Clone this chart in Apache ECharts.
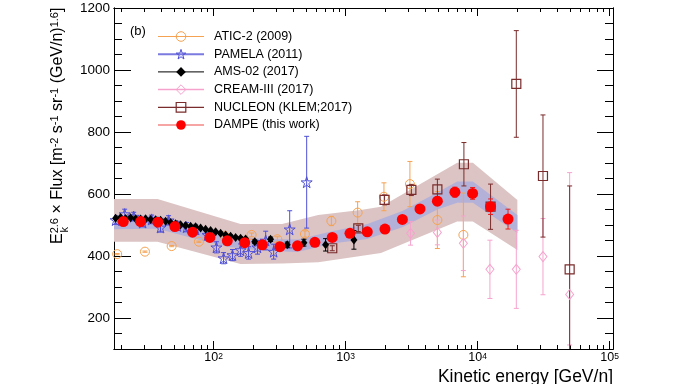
<!DOCTYPE html>
<html><head><meta charset="utf-8">
<script src="https://cdn.jsdelivr.net/npm/echarts@6/dist/echarts.min.js"></script>
<style>html,body{margin:0;padding:0;background:#fff}#c{width:682px;height:384px}</style>
</head><body><div id="c"></div>
<script>
const FONT = '"Liberation Sans", Arial, Helvetica, sans-serif';

// ---- axis ticks ----
const xMajorTicks = [100, 1000, 10000, 100000];
const xMinorTicks = [20,30,40,50,60,70,80,90,200,300,400,500,600,700,800,900,2000,3000,4000,5000,6000,7000,8000,9000,20000,30000,40000,50000,60000,70000,80000,90000];
const yMajorTicks = [200, 400, 600, 800, 1000, 1200];
const yMinorTicks = [150,250,300,350,450,500,550,650,700,750,850,900,950,1050,1100,1150];

const seriesNames = ['ATIC-2 (2009)', 'PAMELA (2011)', 'AMS-02 (2017)', 'CREAM-III (2017)', 'NUCLEON (KLEM;2017)', 'DAMPE (this work)'];

// ---- data ----
const aticE = [18.6, 30.2, 48.1, 77.4, 121, 194, 304, 492, 780, 1233, 1951, 3069, 4955, 7798];
const aticV = [406, 414, 432, 446, 465, 468, 454, 471, 513, 540, 591, 632, 516, 468];
const aticErr = [2, 2, 2, 2, 3, 6, 8, 10, 15, 35, 45, 73, 92, 135];

const pamelaE = [18.1, 21.2, 24.8, 29.0, 33.9, 39.6, 45.6, 53.3, 62.4, 73.1, 90.1, 105, 119, 139, 160, 184, 215, 248, 285, 377, 507];
const pamelaV = [516, 535, 527, 508, 518, 492, 515, 497, 493, 486, 468, 428, 393, 403, 419, 410, 428, 450, 414, 486, 638];
const pamelaErr = [14, 16, 14, 14, 14, 15, 15, 15, 15, 16, 16, 18, 18, 18, 20, 20, 22, 30, 24, 60, 148];

const amsE = [18.10, 19.75, 21.54, 23.50, 25.65, 27.99, 30.53, 33.32, 36.36, 39.67, 43.28, 47.23, 51.53, 56.23, 61.36, 66.95, 73.04, 79.69, 86.96, 94.90, 103.6, 113.0, 123.3, 134.5, 146.8, 160.2, 174.8, 205, 270, 361, 483, 705, 1156];
const amsV = [522, 524, 521, 523, 520, 519, 520, 518, 517, 515, 512, 508, 504, 501, 498, 496, 494, 490, 486, 482, 478, 473, 468, 464, 460, 457, 455, 446, 454, 436, 443, 436, 452];
const amsErr = [3, 3, 3, 3, 3, 3, 3, 3, 3, 3, 3, 3, 3, 3, 3, 3, 3, 3, 3, 3, 4, 4, 4, 4, 4, 5, 5, 6, 7, 9, 11, 20, 30];

const creamE = [3105, 4955, 7798, 12390, 19630, 31250, 49770];
const creamV = [473, 476, 441, 357, 357, 398, 276];
const creamErrLo = [38, 40, 88, 94, 126, 123, 163];
const creamErrHi = [38, 40, 88, 94, 126, 123, 393];

const nucleonE = [792, 1247, 1972, 3148, 4955, 7870, 12530, 19630, 31250, 49770];
const nucleonV = [425, 489, 581, 613, 615, 696, 559, 955, 658, 357];
const nucleonErrLo = [8, 10, 16, 18, 33, 70, 73, 172, 197, 300];
const nucleonErrHi = [8, 10, 16, 18, 33, 70, 73, 172, 197, 269];

const dampeE = [20.7, 28.0, 37.8, 50.9, 69.3, 93.7, 127, 172, 234, 318, 432, 585, 792, 1079, 1459, 1986, 2691, 3658, 4955, 6728, 9160, 12530, 16990];
const dampeV = [511, 511, 509, 495, 477, 460, 449, 443, 436, 430, 433, 444, 460, 473, 478, 487, 518, 552, 577, 606, 602, 559, 519];
const dampeErr = [3, 3, 3, 3, 3, 3, 3, 3, 4, 4, 5, 5, 6, 7, 8, 9, 10, 12, 14, 16, 19, 25, 32];

// DAMPE uncertainty bands
const outerBandE = [17.6, 37.6, 160, 330, 620, 1300, 1850, 7000, 9200, 20000];
const outerBandLo = [446, 446, 374, 376, 380, 400, 410, 511, 511, 419];
const outerBandHi = [584, 584, 503, 503, 532, 548, 559, 701, 701, 581];
const innerBandE = [17.6, 37.6, 70, 127, 234, 432, 792, 1459, 2691, 4955, 7000, 9200, 20000];
const innerBandLo = [486, 488, 457, 430, 417, 413, 440, 455, 493, 550, 572, 572, 474];
const innerBandHi = [532, 530, 497, 468, 455, 453, 480, 503, 545, 605, 640, 640, 532];

// ---- colours ----
const C_ATIC = '#f5a252', C_PAM = '#4f4fd6', C_AMS = '#000000', C_CREAM = '#f5a3cd', C_NUC = '#7a2b2b', C_DAMPE = '#ff0000';
const STAR = 'path://M0,-1L0.2245,-0.309L0.951,-0.309L0.363,0.118L0.588,0.809L0,0.382L-0.588,0.809L-0.363,0.118L-0.951,-0.309L-0.2245,-0.309Z';

function bandSeries(name, E, lo, hi, fill, z) {
  return {
    type: 'custom', name: name, z: z, silent: true, clip: true,
    data: [[E[0], lo[0]]],
    renderItem: function (params, api) {
      const pts = [];
      for (let i = 0; i < E.length; i++) pts.push(api.coord([E[i], hi[i]]));
      for (let i = E.length - 1; i >= 0; i--) pts.push(api.coord([E[i], lo[i]]));
      return { type: 'polygon', shape: { points: pts }, style: { fill: fill } };
    }
  };
}

function errSeries(name, E, V, lo, hi, color, z, cap, lw) {
  const data = E.map((e, i) => [e, V[i] - lo[i], V[i] + hi[i]]);
  return {
    type: 'custom', name: name, z: z, silent: true, clip: true,
    encode: { x: 0, y: [1, 2] },
    data: data,
    renderItem: function (params, api) {
      const x = api.value(0);
      const p1 = api.coord([x, api.value(1)]);
      const p2 = api.coord([x, api.value(2)]);
      const c = cap / 2;
      const st = { stroke: color, lineWidth: lw };
      return { type: 'group', children: [
        { type: 'line', shape: { x1: p1[0], y1: p1[1], x2: p2[0], y2: p2[1] }, style: st },
        { type: 'line', shape: { x1: p1[0] - c, y1: p1[1], x2: p1[0] + c, y2: p1[1] }, style: st },
        { type: 'line', shape: { x1: p2[0] - c, y1: p2[1], x2: p2[0] + c, y2: p2[1] }, style: st }
      ] };
    }
  };
}

function markSeries(name, E, V, symbol, size, fill, border, bw, z) {
  return {
    type: 'line', name: name, z: z, silent: true,
    data: E.map((e, i) => [e, V[i]]),
    symbol: symbol, symbolSize: size, showSymbol: true,
    lineStyle: { width: 0 },
    itemStyle: { color: fill, borderColor: border, borderWidth: bw }
  };
}

function xAx(pos, ticks, len, withLabels) {
  return {
    type: 'log', logBase: 10, min: 17.6, max: 106000, position: pos,
    splitLine: { show: false },
    axisLine: { show: true, onZero: false, lineStyle: { color: '#000', width: 1 } },
    axisTick: { show: true, inside: true, length: len, customValues: ticks, lineStyle: { color: '#000', width: 1 } },
    axisLabel: withLabels ? {
      show: true, customValues: ticks, margin: 3, color: '#000',
      formatter: v => '{b|10}{s|' + Math.round(Math.log10(v)) + '}',
      rich: {
        b: { fontSize: 12.5, lineHeight: 12.5, verticalAlign: 'bottom', fontFamily: FONT, color: '#000' },
        s: { fontSize: 8.5, lineHeight: 8.5, padding: [0, 0, 6, 0], verticalAlign: 'top', fontFamily: FONT, color: '#000' }
      }
    } : { show: false }
  };
}

function yAx(pos, ticks, len, withLabels) {
  return {
    type: 'value', min: 100, max: 1200, position: pos,
    splitLine: { show: false },
    axisLine: { show: true, onZero: false, lineStyle: { color: '#000', width: 1 } },
    axisTick: { show: true, inside: true, length: len, customValues: ticks, lineStyle: { color: '#000', width: 1 } },
    axisLabel: withLabels ? { show: true, customValues: ticks, margin: 4, color: '#000', fontSize: 13.5, fontFamily: FONT, formatter: v => String(v) } : { show: false }
  };
}

const legendStyles = [
  { name: seriesNames[0], itemStyle: { color: 'rgba(255,255,255,0)', borderColor: C_ATIC, borderWidth: 1 }, lineStyle: { color: C_ATIC, width: 1.2, opacity: 1 } },
  { name: seriesNames[1], itemStyle: { color: 'rgba(255,255,255,0)', borderColor: C_PAM, borderWidth: 1 }, lineStyle: { color: '#7a7ae0', width: 2, opacity: 1 } },
  { name: seriesNames[2], itemStyle: { color: '#000', borderColor: '#000', borderWidth: 0 }, lineStyle: { color: '#000', width: 1, opacity: 1 } },
  { name: seriesNames[3], itemStyle: { color: 'rgba(255,255,255,0)', borderColor: C_CREAM, borderWidth: 1 }, lineStyle: { color: C_CREAM, width: 1.5, opacity: 1 } },
  { name: seriesNames[4], itemStyle: { color: 'rgba(255,255,255,0)', borderColor: C_NUC, borderWidth: 1.2 }, lineStyle: { color: C_NUC, width: 1.2, opacity: 1 } },
  { name: seriesNames[5], itemStyle: { color: C_DAMPE, borderColor: C_DAMPE, borderWidth: 0 }, lineStyle: { color: '#f04a4a', width: 1.2, opacity: 1 } }
];

const TR = 'rgba(255,255,255,0)';
const option = {
  animation: false,
  backgroundColor: '#fff',
  grid: { left: 114, right: 69, top: 8, bottom: 35 },
  xAxis: [
    xAx('bottom', xMajorTicks, 8, true),
    xAx('bottom', xMinorTicks, 4, false),
    xAx('top', xMajorTicks, 8, false),
    xAx('top', xMinorTicks, 4, false)
  ],
  yAxis: [
    yAx('left', yMajorTicks, 17, true),
    yAx('left', yMinorTicks, 8, false),
    yAx('right', yMajorTicks, 16, false),
    yAx('right', yMinorTicks, 8, false)
  ],
  legend: {
    orient: 'vertical', left: 157, top: 30, padding: 0,
    itemWidth: 46, itemHeight: 12, itemGap: 4.7, selectedMode: false,
    textStyle: { fontFamily: FONT, fontSize: 12.5, lineHeight: 12, color: '#000', padding: [0, 0, 0, 5] },
    data: legendStyles
  },
  series: [
    bandSeries('outerBand', outerBandE, outerBandLo, outerBandHi, '#dcc4c4', 1),
    bandSeries('innerBand', innerBandE, innerBandLo, innerBandHi, '#b4b1d8', 1),
    errSeries('aticErr', aticE, aticV, aticErr, aticErr, C_ATIC, 2, 5, 1),
    markSeries(seriesNames[0], aticE, aticV, 'circle', 9, TR, C_ATIC, 1, 3),
    errSeries('pamErr', pamelaE, pamelaV, pamelaErr, pamelaErr, C_PAM, 2, 5, 1),
    markSeries(seriesNames[1], pamelaE, pamelaV, STAR, 11, TR, C_PAM, 1, 3),
    errSeries('amsErr', amsE, amsV, amsErr, amsErr, C_AMS, 4, 5, 1),
    markSeries(seriesNames[2], amsE, amsV, 'diamond', [7, 9], C_AMS, C_AMS, 0, 4),
    errSeries('creamErr', creamE, creamV, creamErrLo, creamErrHi, C_CREAM, 2, 5, 1),
    markSeries(seriesNames[3], creamE, creamV, 'diamond', [8, 10], TR, C_CREAM, 1, 3),
    errSeries('nucErr', nucleonE, nucleonV, nucleonErrLo, nucleonErrHi, C_NUC, 2, 5, 1),
    markSeries(seriesNames[4], nucleonE, nucleonV, 'rect', 9, TR, C_NUC, 1.2, 3),
    errSeries('dampeErr', dampeE, dampeV, dampeErr, dampeErr, '#e62020', 5, 5, 1),
    markSeries(seriesNames[5], dampeE, dampeV, 'circle', 11, C_DAMPE, C_DAMPE, 0, 6)
  ],
  graphic: [
    { type: 'text', x: 130, y: 31, style: { text: '(b)', fontSize: 13, fontFamily: FONT, fill: '#000', verticalAlign: 'middle', align: 'left' } },
    { type: 'text', x: 613, y: 386, style: { text: 'Kinetic energy [GeV/n]', fontSize: 17.5, fontFamily: FONT, fill: '#000', align: 'right', verticalAlign: 'bottom' } },
    { type: 'group', x: 65.7, y: 244, rotation: Math.PI / 2, children: [
      { type: 'text', x: 0, y: 0, style: {
        text: '{m|E}{p|2.6}{m| × Flux [m}{p|-2}{m| s}{p|-1}{m| sr}{p|-1}{m| (GeV/n)}{p|1.6}{m|]}',
        align: 'left', verticalAlign: 'bottom', fill: '#000', fontFamily: FONT,
        rich: {
          m: { fontSize: 16, lineHeight: 16, verticalAlign: 'bottom', fontFamily: FONT, fill: '#000' },
          p: { fontSize: 11, lineHeight: 11, padding: [0, 0, 8, 0], verticalAlign: 'top', fontFamily: FONT, fill: '#000' }
        }
      } },
      { type: 'text', x: 11.4, y: -1, style: { text: 'k', fontSize: 11, fontFamily: FONT, fill: '#000', align: 'left', verticalAlign: 'middle' } }
    ] }
  ]
};

const chart = echarts.init(document.getElementById('c'), null, { renderer: 'canvas' });
chart.setOption(option);
</script>
</body></html>
